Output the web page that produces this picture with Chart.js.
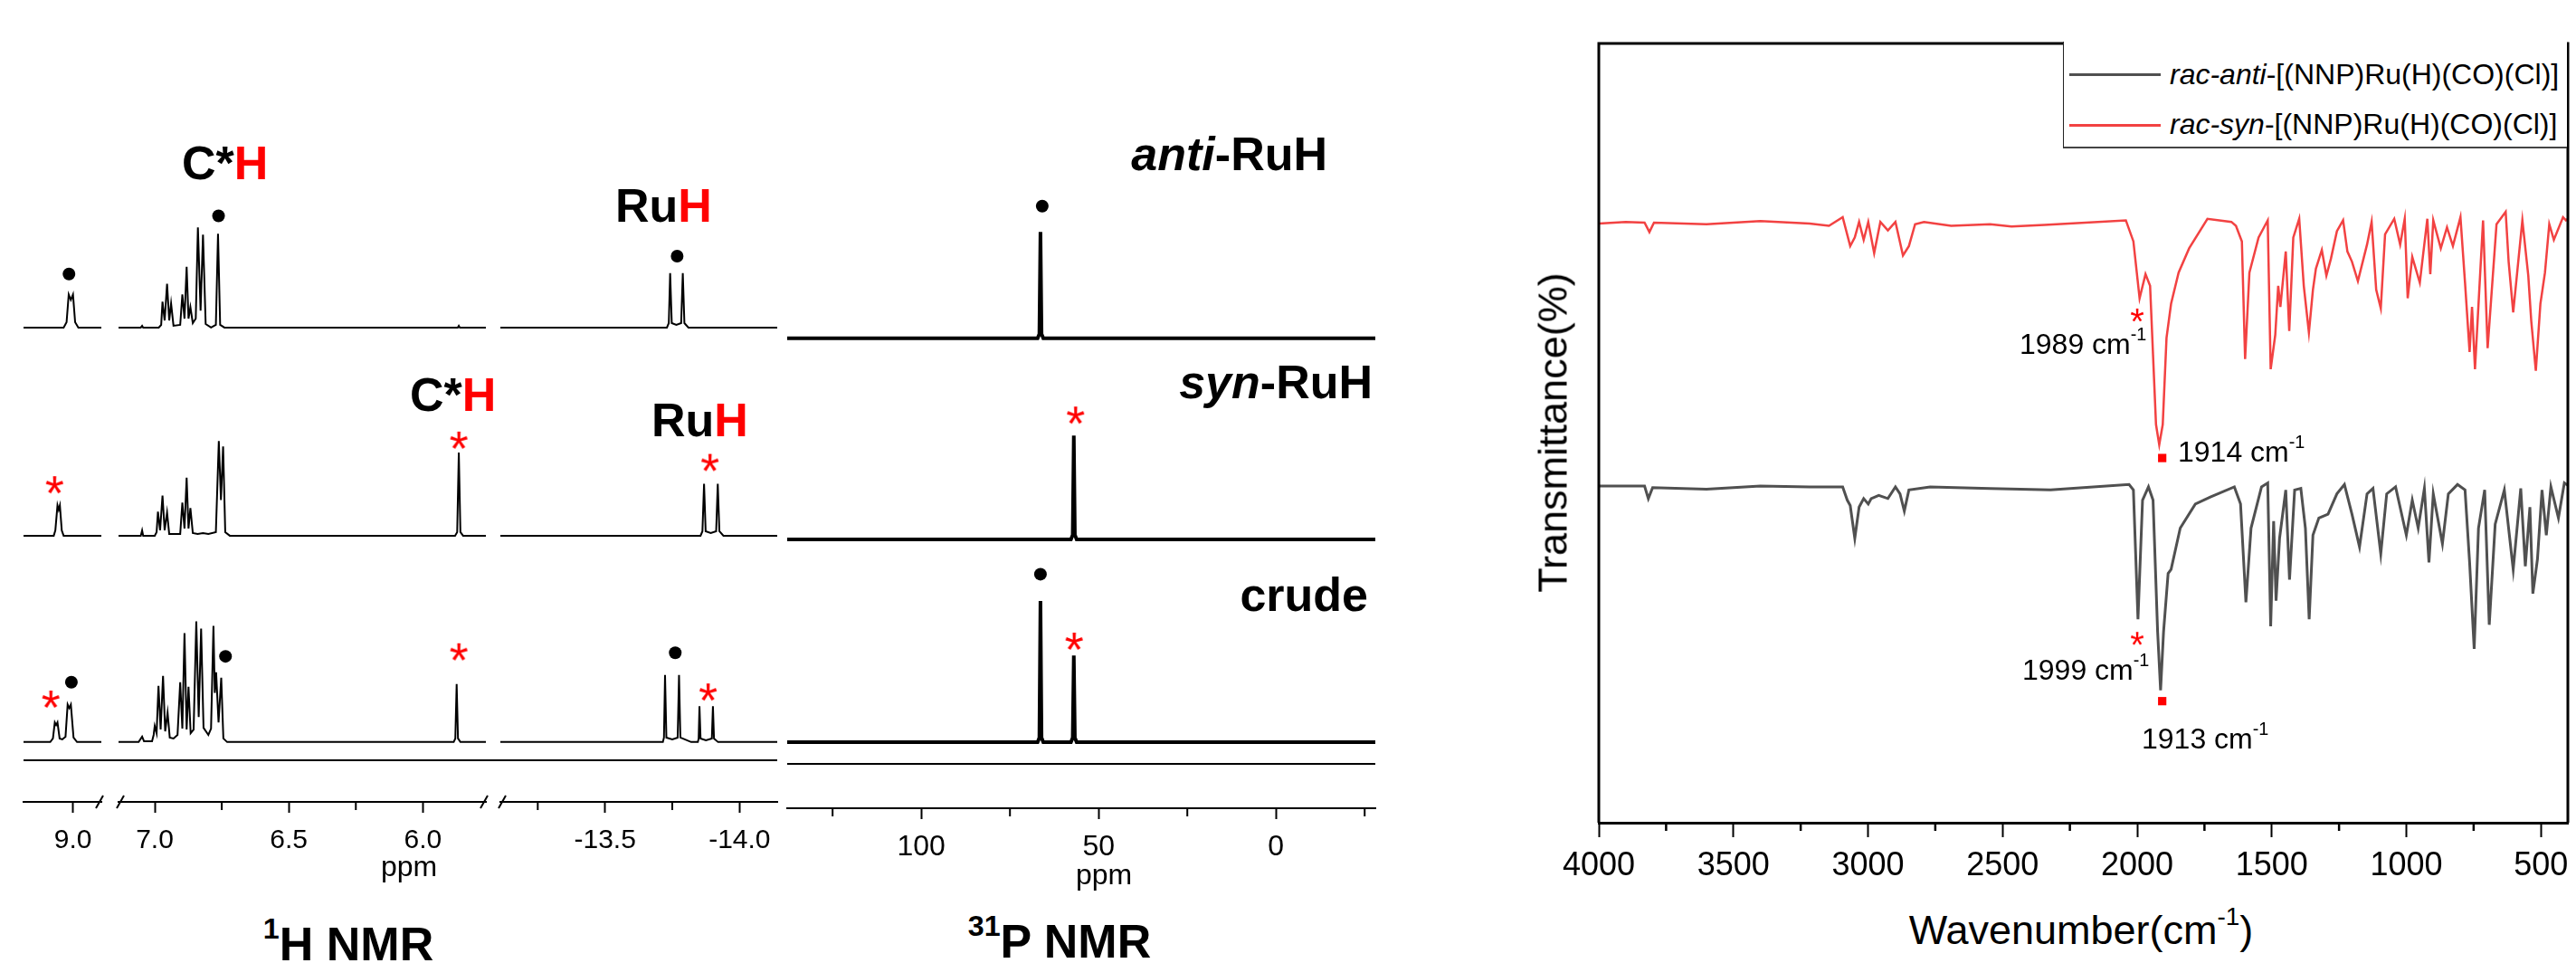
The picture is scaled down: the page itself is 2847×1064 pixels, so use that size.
<!DOCTYPE html>
<html lang="en">
<head>
<meta charset="UTF-8">
<title>NMR and IR spectra of RuH complexes</title>
<script src="https://cdn.jsdelivr.net/npm/chart.js"></script>
<style>
    body {
        margin: 0;
        width: 2847px;
        height: 1064px;
        overflow: hidden;
        background: #fff;
        position: relative;
        font-family: "Liberation Sans", Arial, sans-serif;
        color: #000;
    }
    canvas { position: absolute; }
    .t {
        position: absolute;
        white-space: nowrap;
        line-height: 1;
    }
    .t sup {
        font-size: 0.62em;
        vertical-align: baseline;
        position: relative;
        top: -0.75em;
        line-height: 0;
    }
    .r { color: #ff0000; }
    .line { position: absolute; background: #000; }
    #legend {
        position: absolute;
        left: 2280px; top: 46px;
        width: 556px; height: 116px;
        border-left: 1.5px solid #222;
        border-bottom: 2px solid #444;
        background: #fff;
    }
</style>
</head>
<body>
<canvas id="h9"></canvas>
<canvas id="h7"></canvas>
<canvas id="h13"></canvas>
<canvas id="p31"></canvas>
<canvas id="ir"></canvas>
<div id="legend"></div>

<script>
// ---- 1H NMR (ppm, height above each trace baseline) ----
const hRanges = [[9.185, 8.894], [7.135, 5.765], [-13.111, -14.14]];
const hMajor = [[9.0], [7.0, 6.5, 6.0], [-13.5, -14.0]];
const hMinor = [[], [6.75, 6.25], [-13.25, -13.75]];

const hAnti9 = [[9.185,0],[9.035,0],[9.024,6],[9.016,37],[9.008,31],[9.000,37],[8.992,6],[8.980,0],[8.894,0]];
const hAnti7 = [[7.135,0],[7.052,0],[7.047,2],[7.043,0],[6.985,0],[6.976,3],[6.971,29],[6.963,8],[6.954,49],[6.946,8],[6.939,27],[6.930,2],[6.905,3],
    [6.897,37],[6.889,10],[6.881,68],[6.874,10],[6.867,23],[6.858,5],[6.847,10],[6.839,112],[6.829,19],[6.820,104],[6.810,4],[6.790,0],
    [6.772,3],[6.764,105],[6.756,3],[6.740,0],[5.870,0],[5.866,2],[5.862,0],[5.765,0]];
const hAnti13 = [[-13.111,0],[-13.730,0],[-13.737,5],[-13.742,61],[-13.748,5],[-13.765,3],[-13.783,5],[-13.789,61],[-13.795,5],[-13.810,0],[-14.14,0]];

const hSyn9 = [[9.185,0],[9.072,0],[9.066,6],[9.058,34],[9.0535,29],[9.049,34],[9.042,6],[9.035,0],[8.894,0]];
const hSyn7 = [[7.135,0],[7.052,0],[7.047,6],[7.043,0],[7.000,0],[6.993,4],[6.988,27],[6.980,6],[6.971,45],[6.963,6],[6.954,26],[6.946,2],[6.905,2],
    [6.897,37],[6.889,8],[6.881,65],[6.874,8],[6.867,31],[6.858,3],[6.840,2],[6.820,3],[6.800,2],[6.772,4],[6.761,106],[6.753,40],[6.745,100],
    [6.737,4],[6.720,0],[5.880,0],[5.872,4],[5.866,93],[5.860,4],[5.850,0],[5.765,0]];
const hSyn13 = [[-13.111,0],[-13.855,0],[-13.862,5],[-13.868,58],[-13.874,5],[-13.893,3],[-13.913,5],[-13.919,58],[-13.925,5],[-13.940,0],[-14.14,0]];

const hCrude9 = [[9.185,0],[9.085,0],[9.075,4],[9.068,22],[9.063,19],[9.058,22],[9.050,4],[9.040,3],[9.028,6],[9.020,42],[9.014,38],[9.008,42],[8.998,5],[8.985,0],[8.894,0]];
const hCrude7 = [[7.135,0],[7.060,0],[7.047,6],[7.040,1],[7.010,1],[7.004,8],[7.000,18],[6.993,10],[6.986,63],[6.978,14],[6.969,74],[6.961,12],[6.952,33],
    [6.944,5],[6.930,4],[6.915,8],[6.905,67],[6.897,15],[6.889,122],[6.881,14],[6.874,62],[6.866,10],[6.855,14],[6.845,135],[6.836,28],[6.827,127],
    [6.818,16],[6.800,8],[6.790,15],[6.781,130],[6.776,55],[6.771,78],[6.762,22],[6.752,72],[6.744,4],[6.730,0],[5.885,0],[5.879,4],[5.874,65],
    [5.869,4],[5.860,0],[5.765,0]];
const hCrude13 = [[-13.111,0],[-13.715,0],[-13.719,5],[-13.723,75],[-13.728,5],[-13.750,3],[-13.770,5],[-13.775,75],[-13.780,5],[-13.820,0],
    [-13.845,0],[-13.848,4],[-13.851,40],[-13.855,4],[-13.875,2],[-13.897,4],[-13.901,40],[-13.905,4],[-13.920,0],[-14.14,0]];

const hDotsAnti = [[9.015,60],[6.762,125],[-13.768,80]];
const hStarsSyn = [[9.069,61],[5.866,111],[-13.890,86]];
const hDotsCrude = [[9.006,67],[6.736,96],[-13.761,100]];
const hStarsCrude = [[9.083,52],[5.866,105],[-13.883,60]];

// ---- 31P NMR ----
const pRange = [137.8, -28];
const pMajor = [100, 50, 0];
const pMinor = [125, 75, 25, -25];
const pAnti = [[137.8,0],[67.2,0],[66.7,5],[66.4,119],[66.1,5],[65.6,0],[-28,0]];
const pSyn = [[137.8,0],[57.8,0],[57.3,5],[57.0,116],[56.7,5],[56.2,0],[-28,0]];
const pCrude = [[137.8,0],[67.2,0],[66.7,5],[66.4,158],[66.1,5],[65.6,0],[57.8,0],[57.3,5],[57.0,97],[56.7,5],[56.2,0],[-28,0]];
const pDotsAnti = [[65.9,148]];
const pStarsSyn = [[56.5,143]];
const pDotsCrude = [[66.4,188]];
const pStarsCrude = [[56.9,117]];

// ---- IR (wavenumber, offset transmittance) ----
const irMajor = [4000, 3500, 3000, 2500, 2000, 1500, 1000, 500];
const irMinor = [3750, 3250, 2750, 2250, 1750, 1250, 750];
const irLabels = ['<i>rac-anti</i>-[(NNP)Ru(H)(CO)(Cl)]', '<i>rac-syn</i>-[(NNP)Ru(H)(CO)(Cl)]'];
const irColors = ['#505050', '#f24242'];

const irAnti = [[4000,43.2],[3830,43.2],[3816,41.6],[3800,43.0],[3600,42.8],[3400,43.2],[3217,43.1],[3094,43.1],[3077,41.4],[3066,40.7],[3049,36.5],
    [3033,40.5],[3016,41.6],[2999,40.9],[2988,41.6],[2960,42.0],[2926,41.6],[2898,43.1],[2881,42.2],[2865,40.0],[2848,42.7],[2769,43.1],[2546,42.9],
    [2322,42.7],[2030,43.4],[2014,42.7],[1997,26.1],[1980,41.4],[1958,43.1],[1941,41.4],[1924,24.5],[1913,17.0],[1902,24.5],[1885,32.0],[1874,32.5],
    [1840,37.8],[1784,40.9],[1728,41.8],[1639,43.1],[1616,40.9],[1596,28.3],[1577,37.8],[1538,43.1],[1515,43.6],[1504,25.2],[1493,38.7],[1484,28.5],
    [1471,36.5],[1448,42.7],[1434,31.2],[1415,42.7],[1392,42.9],[1375,37.8],[1361,26.1],[1347,36.9],[1325,39.1],[1291,39.6],[1258,42.2],[1230,43.4],
    [1202,39.6],[1174,35.4],[1146,42.2],[1124,42.9],[1095,34.5],[1073,42.2],[1040,43.1],[1000,36.9],[978,41.4],[956,37.8],[933,42.9],[916,33.4],
    [900,42.2],[866,35.8],[844,42.2],[810,43.4],[782,42.7],[765,33.4],[748,22.3],[732,37.8],[709,42.7],[692,25.4],[670,38.3],[636,42.7],[603,32.5],
    [575,42.9],[558,32.9],[541,40.5],[530,29.4],[513,33.8],[496,42.7],[480,36.9],[463,43.1],[435,39.1],[413,43.6],[400,43.3]];
const irSyn = [[4000,76.9],[3900,77.1],[3830,77.0],[3812,75.8],[3795,77.0],[3600,76.8],[3400,77.2],[3217,76.9],[3145,76.6],[3094,77.7],[3066,74.0],
    [3049,75.1],[3033,77.1],[3016,74.8],[2999,77.1],[2977,73.1],[2954,77.1],[2926,76.0],[2898,77.1],[2870,72.8],[2848,74.0],[2825,76.8],[2792,77.1],
    [2691,76.6],[2546,76.8],[2467,76.5],[2344,76.7],[2042,77.3],[2014,74.6],[1991,67.3],[1969,70.4],[1952,68.9],[1930,51.1],[1918,48.5],[1905,51.1],
    [1891,62.2],[1874,66.6],[1846,70.6],[1807,73.7],[1739,77.5],[1650,77.1],[1633,76.6],[1611,74.6],[1599,59.5],[1583,70.6],[1549,75.1],[1515,77.3],
    [1504,58.2],[1487,62.6],[1476,68.9],[1468,66.2],[1448,73.3],[1435,63.1],[1420,75.1],[1398,77.5],[1381,68.9],[1362,62.9],[1347,68.4],[1336,71.1],
    [1314,73.5],[1297,70.2],[1280,72.4],[1258,75.9],[1235,77.3],[1219,73.3],[1202,72.0],[1180,69.5],[1146,74.2],[1129,77.1],[1112,68.4],[1095,66.0],
    [1079,75.5],[1045,77.5],[1023,74.2],[1006,77.5],[995,67.3],[978,72.6],[950,69.3],[922,77.5],[911,70.4],[900,77.3],[872,73.7],[849,76.4],
    [827,74.0],[799,77.7],[782,69.3],[765,60.4],[756,66.2],[745,58.2],[715,77.3],[698,60.9],[665,76.8],[631,78.4],[620,72.0],[603,65.5],[569,77.3],
    [547,70.2],[536,64.4],[519,58.0],[502,66.6],[485,70.6],[469,76.8],[452,74.8],[418,77.7],[407,77.3],[400,77.5]];
const irStars = [[2000,65.4],[2000,23.9]];
const irSquares = [[1907,46.8],[1907,15.6]];

// ---- layout ----
const FONT = '"Liberation Sans", Arial, sans-serif';
Chart.defaults.font.family = FONT;
Chart.defaults.color = '#000';

const hOff = { anti: 531, syn: 298, crude: 67 };   // trace baselines, px above 1H axis
const pOff = { anti: 526, syn: 301, crude: 74 };

const toXY = (pts, off) => pts.map(p => ({ x: p[0], y: p[1] + off }));
const inRange = (pts, r) => pts.filter(p => p[0] <= r[0] && p[0] >= r[1]);

// red "*" glyph used as point style
function asterisk(fs) {
    const s = Math.ceil(fs * 0.6);
    const c = document.createElement('canvas');
    c.width = s; c.height = s;
    const g = c.getContext('2d');
    g.fillStyle = '#ff0000';
    g.font = fs + 'px ' + FONT;
    g.textAlign = 'center';
    g.textBaseline = 'alphabetic';
    g.fillText('*', s / 2, s / 2 + fs * 0.575);
    return c;
}
const starBig = asterisk(54);
const starSmall = asterisk(40);

const minorTicks = {
    id: 'minorTicks',
    afterDraw(chart, args, opts) {
        if (!opts.values || !opts.values.length) return;
        const { ctx, chartArea } = chart;
        const sx = chart.scales.x;
        ctx.save();
        ctx.strokeStyle = '#000';
        ctx.lineWidth = opts.width;
        opts.values.forEach(v => {
            const px = sx.getPixelForValue(v);
            ctx.beginPath();
            ctx.moveTo(px, chartArea.bottom);
            ctx.lineTo(px, chartArea.bottom + opts.length);
            ctx.stroke();
        });
        ctx.restore();
    }
};

const breakMarks = {
    id: 'breakMarks',
    afterDraw(chart, args, opts) {
        const { ctx, chartArea } = chart;
        const y = chartArea.bottom;
        ctx.save();
        ctx.strokeStyle = '#000';
        ctx.lineWidth = 2;
        const mark = x => {
            ctx.beginPath();
            ctx.moveTo(x - 4, y + 7);
            ctx.lineTo(x + 4, y - 7);
            ctx.stroke();
        };
        if (opts.left) mark(chartArea.left + 2);
        if (opts.right) mark(chartArea.right - 2);
        ctx.restore();
    }
};

const frame = {
    id: 'frame',
    afterDraw(chart) {
        const { ctx, chartArea: a } = chart;
        ctx.save();
        ctx.strokeStyle = '#000';
        ctx.lineWidth = 3;
        ctx.beginPath();
        ctx.moveTo(a.left, a.bottom);
        ctx.lineTo(a.left, a.top);
        ctx.lineTo(a.right, a.top);
        ctx.lineTo(a.right, a.bottom);
        ctx.stroke();
        ctx.restore();
    }
};

function place(id, area, pad, axisH) {
    const c = document.getElementById(id);
    c.width = area.w + pad.l + pad.r;
    c.height = area.h + pad.t + axisH;
    c.style.left = (area.x - pad.l) + 'px';
    c.style.top = (area.y - pad.t) + 'px';
    return c;
}

function xAxis(range, major, axisH, fontSize, tickLen, pad, fmt, borderW) {
    return {
        type: 'linear', position: 'bottom',
        min: range[1], max: range[0], reverse: true,
        afterBuildTicks: s => { s.ticks = major.map(v => ({ value: v })); },
        afterFit: s => { s.height = axisH; s.paddingLeft = 0; s.paddingRight = 0; },
        ticks: { callback: fmt, font: { size: fontSize }, color: '#000', padding: pad, maxRotation: 0, autoSkip: false },
        grid: { drawOnChartArea: false, tickLength: tickLen, tickWidth: 2, tickColor: '#000' },
        border: { display: true, color: '#000', width: borderW }
    };
}

function nmrChart(id, area, pad, range, major, minor, traces, dots, stars, fmt, lw, breaks) {
    const axisH = 70;
    const canvas = place(id, area, pad, axisH);
    new Chart(canvas, {
        type: 'scatter',
        data: {
            datasets: [
                ...traces.map(t => ({
                    data: toXY(t[0], t[1]), showLine: true, borderColor: '#000', borderWidth: lw,
                    pointRadius: 0, tension: 0
                })),
                { data: dots, pointStyle: 'circle', pointRadius: 7, backgroundColor: '#000', borderWidth: 0 },
                { data: stars, pointStyle: starBig, pointRadius: 9 }
            ]
        },
        options: {
            animation: false, responsive: false, events: [],
            layout: { padding: { left: pad.l, right: pad.r, top: pad.t, bottom: 0 } },
            plugins: {
                legend: { display: false }, tooltip: { enabled: false },
                minorTicks: { values: minor, length: 9, width: 2 },
                breakMarks: breaks || {}
            },
            scales: {
                x: xAxis(range, major, axisH, fmt === 'p' ? 32 : 30, 12, fmt === 'p' ? 12 : 13,
                    fmt === 'p' ? (v => String(v)) : (v => v.toFixed(1)), 2),
                y: { display: false, min: 0, max: area.h }
            }
        },
        plugins: [minorTicks, breakMarks]
    });
}

function marks(list, off, r) {
    return inRange(list, r).map(p => ({ x: p[0], y: p[1] + off }));
}

// 1H segments
const hAreas = [{ x: 26, w: 86 }, { x: 131, w: 406 }, { x: 553, w: 306 }];
const hTraces = [[hAnti9, hSyn9, hCrude9], [hAnti7, hSyn7, hCrude7], [hAnti13, hSyn13, hCrude13]];
const hBreaks = [{ right: true }, { left: true, right: true }, { left: true }];
['h9', 'h7', 'h13'].forEach((id, i) => {
    const r = hRanges[i];
    const tr = hTraces[i];
    nmrChart(id, { x: hAreas[i].x, y: 120, w: hAreas[i].w, h: 766 }, { l: 20, r: 20, t: 0 }, r, hMajor[i], hMinor[i],
        [[tr[0], hOff.anti], [tr[1], hOff.syn], [tr[2], hOff.crude]],
        [...marks(hDotsAnti, hOff.anti, r), ...marks(hDotsCrude, hOff.crude, r)],
        [...marks(hStarsSyn, hOff.syn, r), ...marks(hStarsCrude, hOff.crude, r)],
        'h', 2, hBreaks[i]);
});

// 31P
nmrChart('p31', { x: 870, y: 120, w: 650, h: 773 }, { l: 20, r: 20, t: 0 }, pRange, pMajor, pMinor,
    [[pAnti, pOff.anti], [pSyn, pOff.syn], [pCrude, pOff.crude]],
    [...marks(pDotsAnti, pOff.anti, pRange), ...marks(pDotsCrude, pOff.crude, pRange)],
    [...marks(pStarsSyn, pOff.syn, pRange), ...marks(pStarsCrude, pOff.crude, pRange)],
    'p', 4, null);

// IR
(function () {
    const area = { x: 1767, y: 46, w: 1071, h: 863 };
    const pad = { l: 70, r: 9, t: 6 };
    const axisH = 75;
    const canvas = place('ir', area, pad, axisH);
    new Chart(canvas, {
        type: 'scatter',
        data: {
            datasets: [
                { data: toXY(irAnti, 0), showLine: true, borderColor: irColors[0], borderWidth: 3, pointRadius: 0 },
                { data: toXY(irSyn, 0), showLine: true, borderColor: irColors[1], borderWidth: 2.5, pointRadius: 0 },
                { data: toXY(irStars, 0), pointStyle: starSmall, pointRadius: 7 },
                { data: toXY(irSquares, 0), pointStyle: 'rect', pointRadius: 6.5, backgroundColor: '#ff0000', borderWidth: 0 }
            ]
        },
        options: {
            animation: false, responsive: false, events: [],
            layout: { padding: { left: pad.l, right: pad.r, top: pad.t, bottom: 0 } },
            plugins: {
                legend: { display: false }, tooltip: { enabled: false },
                minorTicks: { values: irMinor, length: 9, width: 2.5 }
            },
            scales: {
                x: xAxis([4000, 400], irMajor, axisH, 36, 16, 10, v => String(v), 3),
                y: { display: false, min: 0, max: 100 }
            }
        },
        plugins: [minorTicks, frame]
    });
})();

// legend
const legend = document.getElementById('legend');
irLabels.forEach((lab, i) => {
    const ly = [36, 92][i];
    const ln = document.createElement('div');
    ln.className = 'line';
    ln.style.cssText = `left:6px;top:${ly - 1.5}px;width:101px;height:3px;background:${irColors[i]}`;
    legend.appendChild(ln);
});

// text
function text(html, x, base, size, opts = {}) {
    const d = document.createElement('div');
    d.className = 't';
    d.innerHTML = html;
    d.style.fontSize = size + 'px';
    d.style.left = x + 'px';
    d.style.top = (base - 0.8465 * size) + 'px';
    const tx = opts.align === 'center' ? -50 : opts.align === 'right' ? -100 : 0;
    d.style.transform = `translateX(${tx}%)`;
    if (opts.bold) d.style.fontWeight = 'bold';
    document.body.appendChild(d);
    return d;
}

const B = { bold: true };
text('C*<span class="r">H</span>', 201, 198, 52, B);
text('Ru<span class="r">H</span>', 680, 245, 52, B);
text('C*<span class="r">H</span>', 453, 454, 52, B);
text('Ru<span class="r">H</span>', 720, 482, 52, B);
text('<i>anti</i>-RuH', 1467, 188, 52, { bold: true, align: 'right' });
text('<i>syn</i>-RuH', 1517, 440, 52, { bold: true, align: 'right' });
text('crude', 1512, 675, 52, { bold: true, align: 'right' });
text('<sup>1</sup>H NMR', 385, 1061, 52, { bold: true, align: 'center' });
text('<sup>31</sup>P NMR', 1171, 1058, 52, { bold: true, align: 'center' });
text('ppm', 452, 968, 32, { align: 'center' });
text('ppm', 1220, 977, 32, { align: 'center' });

text('Wavenumber(cm<sup>-1</sup>)', 2300, 1043, 45, { align: 'center' });
const yt = text('Transmittance(%)', 1716, 478, 45);
yt.style.top = '478px';
yt.style.transform = 'translate(-50%, -50%) rotate(-90deg)';

text('1989 cm<sup>-1</sup>', 2232, 391, 32);
text('1914 cm<sup>-1</sup>', 2407, 510, 32);
text('1999 cm<sup>-1</sup>', 2235, 751, 32);
text('1913 cm<sup>-1</sup>', 2367, 827, 32);

irLabels.forEach((lab, i) => text(lab, 2398, [93, 148][i], 32));

// horizontal rules under the 1H and 31P traces
[[26, 838.5, 833, 2], [870, 843, 650, 1.5]].forEach(([x, y, w, h]) => {
    const d = document.createElement('div');
    d.className = 'line';
    d.style.cssText = `left:${x}px;top:${y}px;width:${w}px;height:${h}px`;
    document.body.appendChild(d);
});
</script>
</body>
</html>
